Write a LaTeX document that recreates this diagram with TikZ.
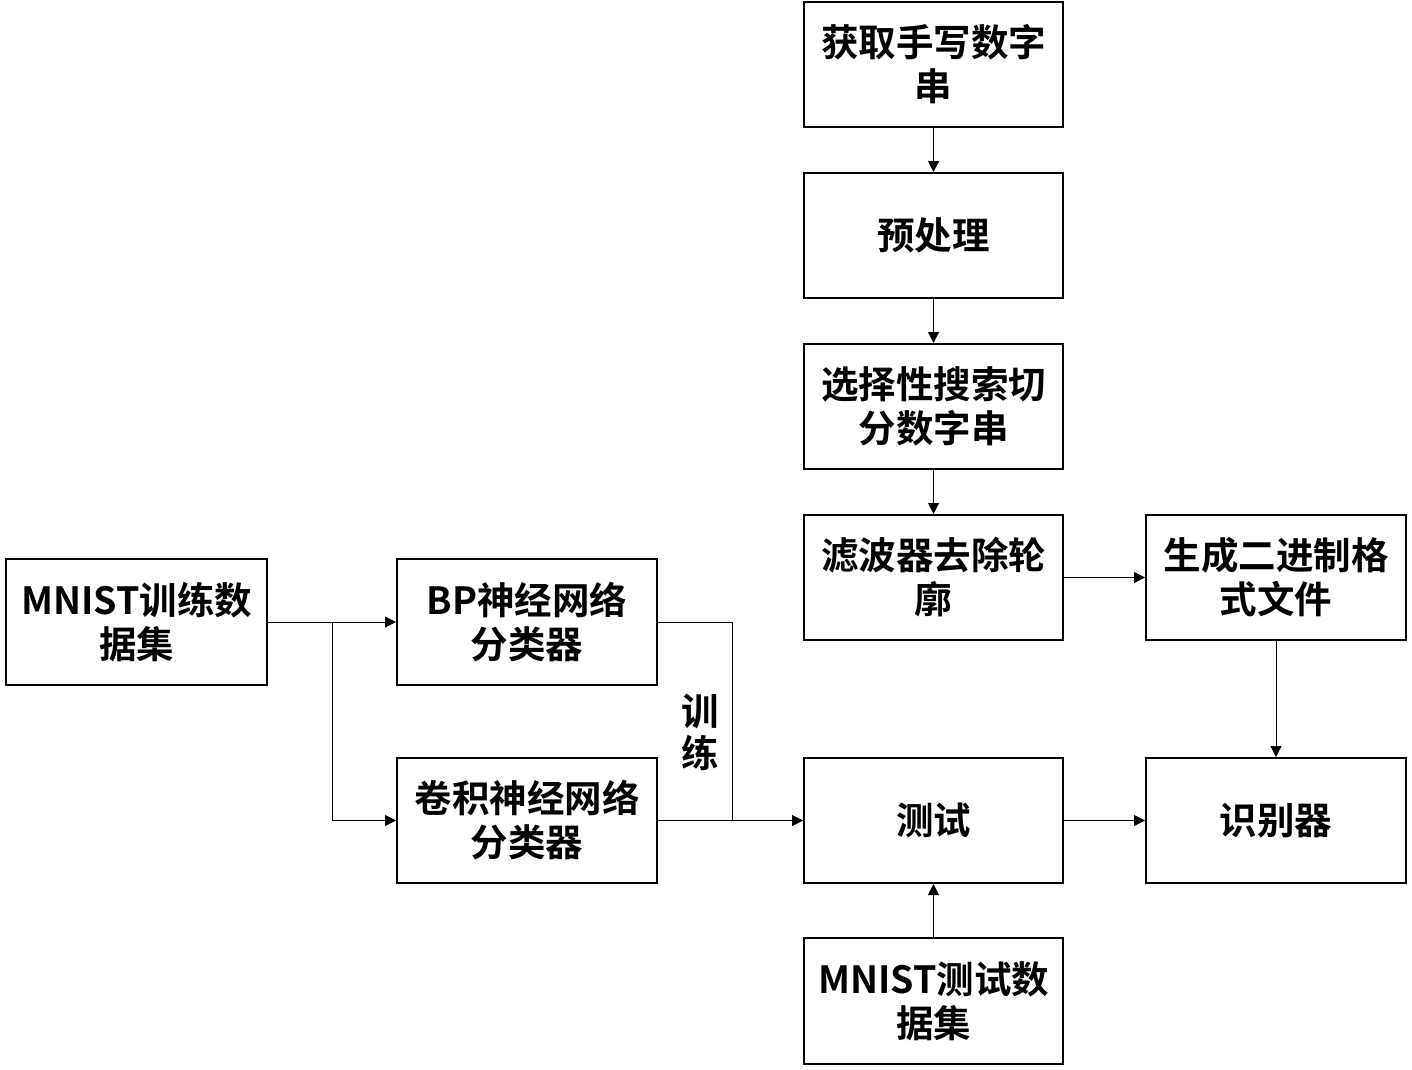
\documentclass[tikz,border=0pt]{standalone}
\usepackage{fontspec}
\setmainfont{Noto Sans CJK SC}[BoldFont={* Bold}]
\newfontfamily\cjkb{Noto Sans CJK SC Bold}
\usetikzlibrary{arrows.meta}
\begin{document}
\begin{tikzpicture}[x=1pt,y=-1pt,
  box/.style={draw,line width=2pt,minimum width=259pt,minimum height=125pt,inner sep=0pt,align=center,font=\fontsize{37.5}{44}\selectfont\cjkb},
  conn/.style={line width=1pt,-{Triangle[length=11pt,width=11pt]}},
  plain/.style={line width=1pt}]
\useasboundingbox (0,0) rectangle (1412,1069);
\node[box] (get) at (933.5,64.5) {获取手写数字\\串};
\node[box] (pre) at (933.5,235.5) {预处理};
\node[box] (seg) at (933.5,406.5) {选择性搜索切\\分数字串};
\node[box] (filt) at (933.5,577.5) {滤波器去除轮\\廓};
\node[box,minimum width=260pt] (gen) at (1276,577.5) {生成二进制格\\式文件};
\node[box,minimum width=261pt,minimum height=126pt] (train) at (136.5,622) {MNIST训练数\\据集};
\node[box,minimum width=260pt,minimum height=126pt] (bp) at (527,622) {BP神经网络\\分类器};
\node[box,minimum width=260pt] (cnn) at (527,820.5) {卷积神经网络\\分类器};
\node[box] (test) at (933.5,820.5) {测试};
\node[box,minimum width=260pt] (rec) at (1276,820.5) {识别器};
\node[box,minimum height=126pt] (mtest) at (933.5,1001) {MNIST测试数\\据集};
\node[align=center,inner sep=0pt,font=\fontsize{37.5}{42}\selectfont\cjkb] (lbl) at (700,732) {训\\练};
\coordinate (br) at (332,622);
\coordinate (tj) at (732,820.5);
\draw[conn] (get) -- (pre);
\draw[conn] (pre) -- (seg);
\draw[conn] (seg) -- (filt);
\draw[conn] (filt) -- (gen);
\draw[conn] (gen) -- (rec);
\draw[conn] (test) -- (rec);
\draw[conn] (mtest) -- (test);
\draw[conn] (train) -- (bp);
\draw[conn] (br) |- (cnn.west);
\draw[plain] (bp.east) -| (tj);
\draw[conn] (cnn) -- (test);
\end{tikzpicture}
\end{document}
